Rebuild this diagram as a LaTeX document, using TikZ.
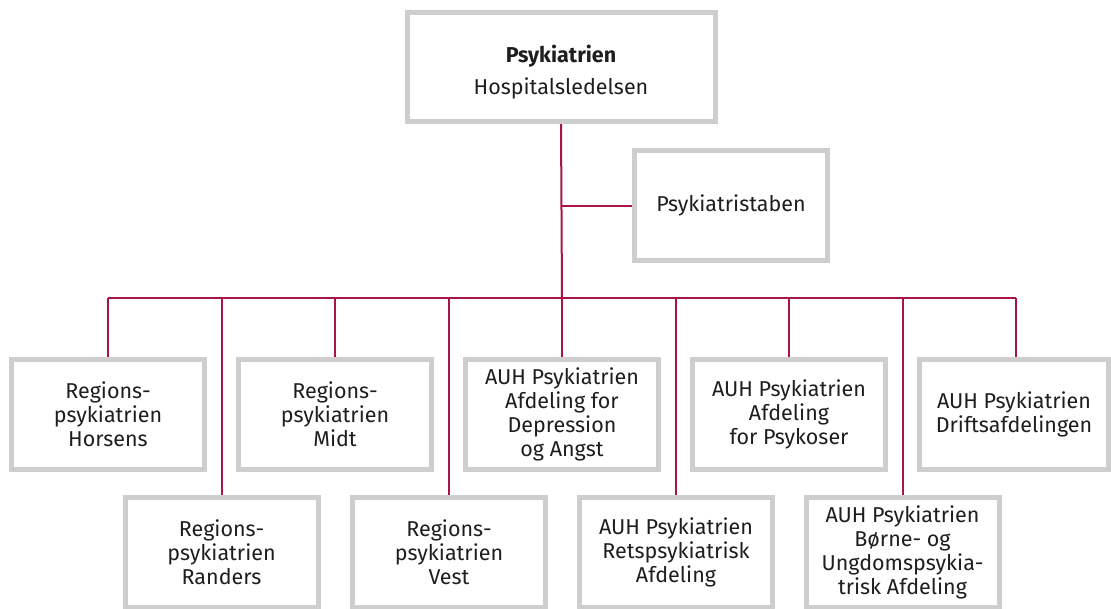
\documentclass[tikz,border=0pt]{standalone}
\usepackage{fontspec}
\setmainfont{Fira Sans}
\usetikzlibrary{backgrounds}
\definecolor{boxgrey}{RGB}{206,206,206}
\definecolor{linered}{RGB}{168,20,72}
\definecolor{txt}{RGB}{30,30,30}
\begin{document}
\begin{tikzpicture}[x=1pt,y=-1pt,
  box/.style={draw=boxgrey, line width=5pt, fill=white, inner sep=0pt,
    minimum width=193pt, minimum height=110pt, align=center, text=txt,
    font=\fontsize{21.5}{24}\selectfont},
  conn/.style={draw=linered, line width=2pt}]
\useasboundingbox (0,0) rectangle (1111,608);
\node[box, minimum width=308pt, minimum height=109pt] (top) at (561,67)
  {\raisebox{-6pt}[\height][\depth]{\begin{tabular}{@{}c@{}}\textbf{Psykiatrien}\\[8pt]Hospitalsledelsen\end{tabular}}};
\node[box] (staff) at (731,205.5) {Psykiatristaben};
\node[box] (horsens) at (108,414.5) {Regions-\\psykiatrien\\Horsens};
\node[box] (midt) at (335,414.5) {Regions-\\psykiatrien\\Midt};
\node[box] (depr) at (562,414.5) {AUH Psykiatrien\\Afdeling for\\Depression\\og Angst};
\node[box] (psykoser) at (789,414.5) {AUH Psykiatrien\\Afdeling\\for Psykoser};
\node[box, minimum width=189pt] (drift) at (1014,414.5) {AUH Psykiatrien\\Driftsafdelingen};
\node[box] (randers) at (221.5,552) {Regions-\\psykiatrien\\Randers};
\node[box] (vest) at (449,552) {Regions-\\psykiatrien\\Vest};
\node[box] (rets) at (676,552) {AUH Psykiatrien\\Retspsykiatrisk\\Afdeling};
\node[box] (borne) at (902.5,552) {AUH Psykiatrien\\Børne- og\\Ungdomspsykia-\\trisk Afdeling};
\coordinate (hub) at (562,298);
\coordinate (barL) at (108,298);
\coordinate (barR) at (1016,298);
\begin{pgfonlayer}{background}
\draw[conn] (top.south) -- (hub);
\draw[conn] (top.south |- staff.west) -- (staff.west);
\draw[conn] (barL) -- (barR);
\foreach \n in {horsens,midt,depr,psykoser,randers,vest,rets,borne}
  \draw[conn] (\n.north |- hub) -- (\n.north);
\draw[conn] (barR) -- (barR |- drift.north);
\end{pgfonlayer}
\end{tikzpicture}
\end{document}
